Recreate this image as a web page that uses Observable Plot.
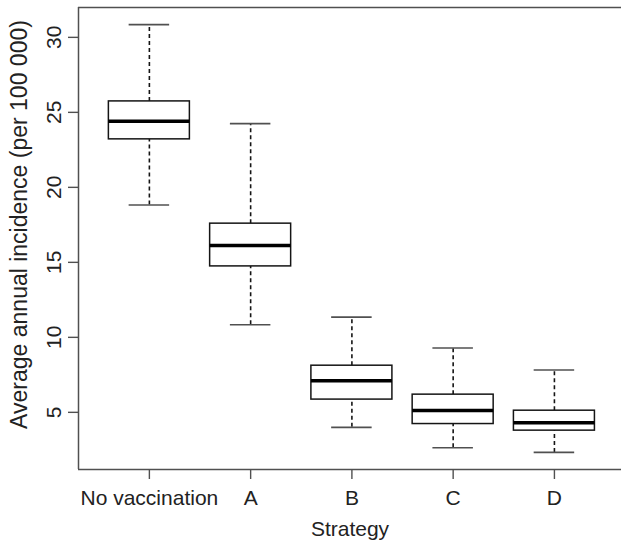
<!DOCTYPE html>
<html>
<head>
<meta charset="utf-8">
<script src="https://cdn.jsdelivr.net/npm/d3@7"></script>
<script src="https://cdn.jsdelivr.net/npm/@observablehq/plot@0.6"></script>
<style>
  html, body { margin: 0; padding: 0; background: white; overflow: hidden; }
  svg { overflow: hidden; }
</style>
</head>
<body>
<div id="chart"></div>
<script>
// Data
const categories  = ["No vaccination", "A", "B", "C", "D"];
const whiskerHigh = [30.85, 24.25, 11.35, 9.29, 7.82];
const q3          = [25.73, 17.58, 8.11, 6.18, 5.11];
const median      = [24.40, 16.13, 7.11, 5.13, 4.31];
const q1          = [23.20, 14.73, 5.85, 4.22, 3.78];
const whiskerLow  = [18.82, 10.84, 4.00, 2.64, 2.33];
const yTicks      = [5, 10, 15, 20, 25, 30];
const xLabel = "Strategy";
const yLabel = "Average annual incidence (per 100 000)";

const rows = categories.map((c, i) => ({
  pos: i + 1, name: c,
  lo: whiskerLow[i], q1: q1[i], med: median[i], q3: q3[i], hi: whiskerHigh[i]
}));

// R-style limits: 4% padding around data range; boxes at 1..n, xlim = [0.5, n+0.5] padded 4%
const [dMin, dMax] = [d3.min(whiskerLow), d3.max(whiskerHigh)];
const yPad = 0.04 * (dMax - dMin);
const yDomain = [dMin - yPad, dMax + yPad];
const n = categories.length;
const xPad = 0.04 * n;
const xDomain = [0.5 - xPad, n + 0.5 + xPad];

const BOX = 0.4, CAP = 0.2;
const ink = "#151515", axisInk = "#505050";

const chart = Plot.plot({
  width: 621,
  height: 542,
  marginLeft: 78,
  marginRight: 0,
  marginTop: 7,
  marginBottom: 73,
  style: { fontFamily: "'Liberation Sans', Arial, Helvetica, sans-serif", fontSize: "21px", color: "#222", background: "white" },
  x: { domain: xDomain, range: [78, 624.8] },
  y: { domain: yDomain },
  marks: [
    // frame (box())
    Plot.ruleY([yDomain[0], yDomain[1]], { x1: xDomain[0], x2: xDomain[1], stroke: axisInk, strokeWidth: 1.5 }),
    Plot.ruleX([xDomain[0]], { y1: yDomain[0], y2: yDomain[1], stroke: axisInk, strokeWidth: 1.5 }),
    Plot.axisX({
      ticks: rows.map(d => d.pos),
      tickFormat: p => categories[p - 1],
      tickSize: 10, tickPadding: 11,
      stroke: axisInk, strokeWidth: 1.4, fill: "#222",
      label: xLabel, labelAnchor: "center", labelOffset: 66, labelArrow: "none"
    }),
    Plot.axisY({
      ticks: yTicks, tickSize: 10, tickPadding: 8, tickRotate: -90,
      stroke: axisInk, strokeWidth: 1.4, fill: "#222",
      label: null
    }),
    Plot.text([yLabel], {
      frameAnchor: "left", rotate: -90, dx: -68, dy: -14, lineAnchor: "top", textAnchor: "middle",
      fontSize: 23, fill: "#222"
    }),
    // whiskers (dashed)
    Plot.ruleX(rows, { x: "pos", y1: "q3", y2: "hi", stroke: ink, strokeWidth: 1.6, strokeDasharray: "4,3" }),
    Plot.ruleX(rows, { x: "pos", y1: "lo", y2: "q1", stroke: ink, strokeWidth: 1.6, strokeDasharray: "4,3" }),
    // caps
    Plot.ruleY(rows, { y: "hi", x1: d => d.pos - CAP, x2: d => d.pos + CAP, stroke: axisInk, strokeWidth: 1.6 }),
    Plot.ruleY(rows, { y: "lo", x1: d => d.pos - CAP, x2: d => d.pos + CAP, stroke: axisInk, strokeWidth: 1.6 }),
    // boxes
    Plot.rect(rows, { x1: d => d.pos - BOX, x2: d => d.pos + BOX, y1: "q1", y2: "q3", fill: "white", stroke: ink, strokeWidth: 1.5 }),
    // medians
    Plot.ruleY(rows, { y: "med", x1: d => d.pos - BOX, x2: d => d.pos + BOX, stroke: "#000", strokeWidth: 3.5 })
  ]
});
document.getElementById("chart").appendChild(chart);
</script>
</body>
</html>
